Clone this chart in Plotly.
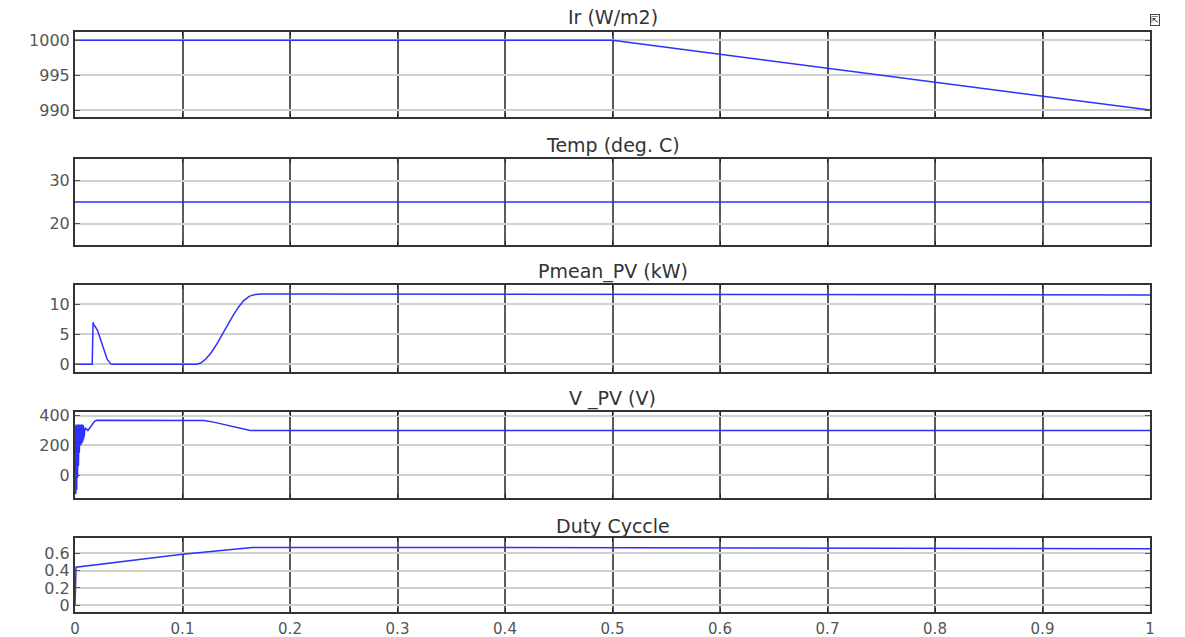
import plotly.graph_objects as go

# ---- data ----
ir_t = [0.0, 0.5, 1.0]
ir_v = [1000, 1000, 990]

temp_t = [0.0, 1.0]
temp_v = [25, 25]

p_t = [0, 0.016, 0.0168, 0.0175, 0.019, 0.021, 0.024, 0.027, 0.030, 0.033, 0.035,
       0.113, 0.117, 0.122, 0.127, 0.132, 0.137, 0.142, 0.147, 0.152, 0.157, 0.162,
       0.166, 0.170, 0.175, 0.2, 1.0]
p_v = [0, 0, 7.0, 6.6, 6.2, 5.6, 4.0, 2.3, 0.8, 0.1, 0,
       0, 0.2, 0.9, 2.0, 3.4, 5.0, 6.6, 8.1, 9.5, 10.6, 11.3,
       11.55, 11.65, 11.7, 11.7, 11.55]

v_t = [0, 0.0002, 0.0004, 0.0006, 0.0008, 0.0010, 0.0012, 0.0014, 0.0016, 0.0018,
       0.0020, 0.0022, 0.0024, 0.0026, 0.0028, 0.0030, 0.0032, 0.0034, 0.0036, 0.0038,
       0.0040, 0.0042, 0.0044, 0.0046, 0.0048, 0.0050, 0.0052, 0.0054, 0.0056, 0.0058,
       0.0060, 0.0062, 0.0064, 0.0066, 0.0068, 0.0070, 0.0072, 0.0074, 0.0076, 0.0078,
       0.0080, 0.0083, 0.0086, 0.0090, 0.0100, 0.0120, 0.0150, 0.0180, 0.0200,
       0.112, 0.120, 0.130, 0.140, 0.150, 0.158, 0.163, 1.0]
v_v = [0, 330, -130, 320, -125, 340, -110, 330, -100, 335,
       -60, 325, -20, 340, 20, 330, 60, 335, 110, 340,
       150, 330, 190, 340, 200, 335, 200, 340, 205, 330,
       210, 340, 215, 335, 220, 340, 225, 335, 230, 330,
       240, 320, 260, 300, 315, 300, 330, 360, 370,
       370, 367, 355, 338, 320, 305, 300, 300]

d_t = [0, 0.001, 0.1, 0.165, 0.4, 1.0]
d_v = [0, 0.44, 0.59, 0.67, 0.67, 0.655]

titles = ["Ir (W/m2)", "Temp (deg. C)", "Pmean_PV (kW)", "V _PV (V)", "Duty Cyccle"]
x_ticks = [0, 0.1, 0.2, 0.3, 0.4, 0.5, 0.6, 0.7, 0.8, 0.9, 1]
y_ticks = [[990, 995, 1000], [20, 30], [0, 5, 10], [0, 200, 400], [0, 0.2, 0.4, 0.6]]
y_tick_text = [["990", "995", "1000"], ["20", "30"], ["0", "5", "10"], ["0", "200", "400"],
               ["0", "0.2", "0.4", "0.6"]]
y_ranges = [[989, 1001.2], [15, 35], [-1.3, 13.2], [-155, 425], [-0.08, 0.78]]

series = [(ir_t, ir_v), (temp_t, temp_v), (p_t, p_v), (v_t, v_v), (d_t, d_v)]

# ---- layout geometry (pixels) ----
W, H = 1185, 637
top_m, bot_m = 32, 25
plot_h = H - top_m - bot_m
panels_px = [(32, 117), (159, 245), (285, 372), (412, 498), (538, 612)]

def dom(p):
    a, b = p
    return [max(0, 1 - (b - top_m) / plot_h), 1 - (a - top_m) / plot_h]

fig = go.Figure()
font_family = "DejaVu Sans, Verdana, sans-serif"

for i, (t, v) in enumerate(series):
    n = i + 1
    xa = "x" if n == 1 else f"x{n}"
    ya = "y" if n == 1 else f"y{n}"
    fig.add_trace(go.Scatter(x=t, y=v, mode="lines", xaxis=xa, yaxis=ya,
                             line=dict(color="#2f2fff", width=1.5), showlegend=False))
    xkey = "xaxis" if n == 1 else f"xaxis{n}"
    ykey = "yaxis" if n == 1 else f"yaxis{n}"
    fig.layout[xkey] = dict(
        domain=[0, 1], anchor=ya, range=[0, 1], tickvals=x_ticks,
        showticklabels=(n == 5), ticktext=[str(x) for x in x_ticks],
        showgrid=True, gridcolor="#5a5a5a", gridwidth=1.5,
        showline=True, linecolor="#333", linewidth=2, mirror="ticks",
        ticks="inside", ticklen=4, tickcolor="#222", zeroline=False,
        ticklabelstandoff=2,
        tickfont=dict(family=font_family, size=15, color="#555"),
    )
    if n > 1:
        fig.layout[xkey]["matches"] = "x"
    fig.layout[ykey] = dict(
        domain=dom(panels_px[i]), anchor=xa, range=y_ranges[i],
        tickvals=y_ticks[i], ticktext=y_tick_text[i],
        showgrid=True, gridcolor="#d0d0d0", gridwidth=1.5,
        showline=True, linecolor="#333", linewidth=2, mirror="ticks",
        ticks="inside", ticklen=5, tickcolor="#555", zeroline=False,
        tickfont=dict(family=font_family, size=16, color="#555"),
    )

title_y_px = [17, 145, 271, 398, 526]
annotations = []
for i, tt in enumerate(titles):
    annotations.append(dict(
        text=tt, x=0.5, xref="paper", y=1 - (title_y_px[i] - top_m) / plot_h, yref="paper",
        showarrow=False, font=dict(family=font_family, size=19, color="#333"),
        xanchor="center", yanchor="middle"))
annotations.append(dict(
    text="⇱", x=(1160 - 75) / (1150 - 75), xref="paper",
    y=1 - (14 - top_m) / plot_h, yref="paper", showarrow=False,
    font=dict(family="DejaVu Sans", size=9, color="#222"),
    bordercolor="#444", borderwidth=1, borderpad=0))

fig.update_layout(
    width=W, height=H,
    margin=dict(l=75, r=35, t=top_m, b=bot_m, autoexpand=False),
    paper_bgcolor="white", plot_bgcolor="white",
    annotations=annotations,
)

fig.write_html("out.html")
